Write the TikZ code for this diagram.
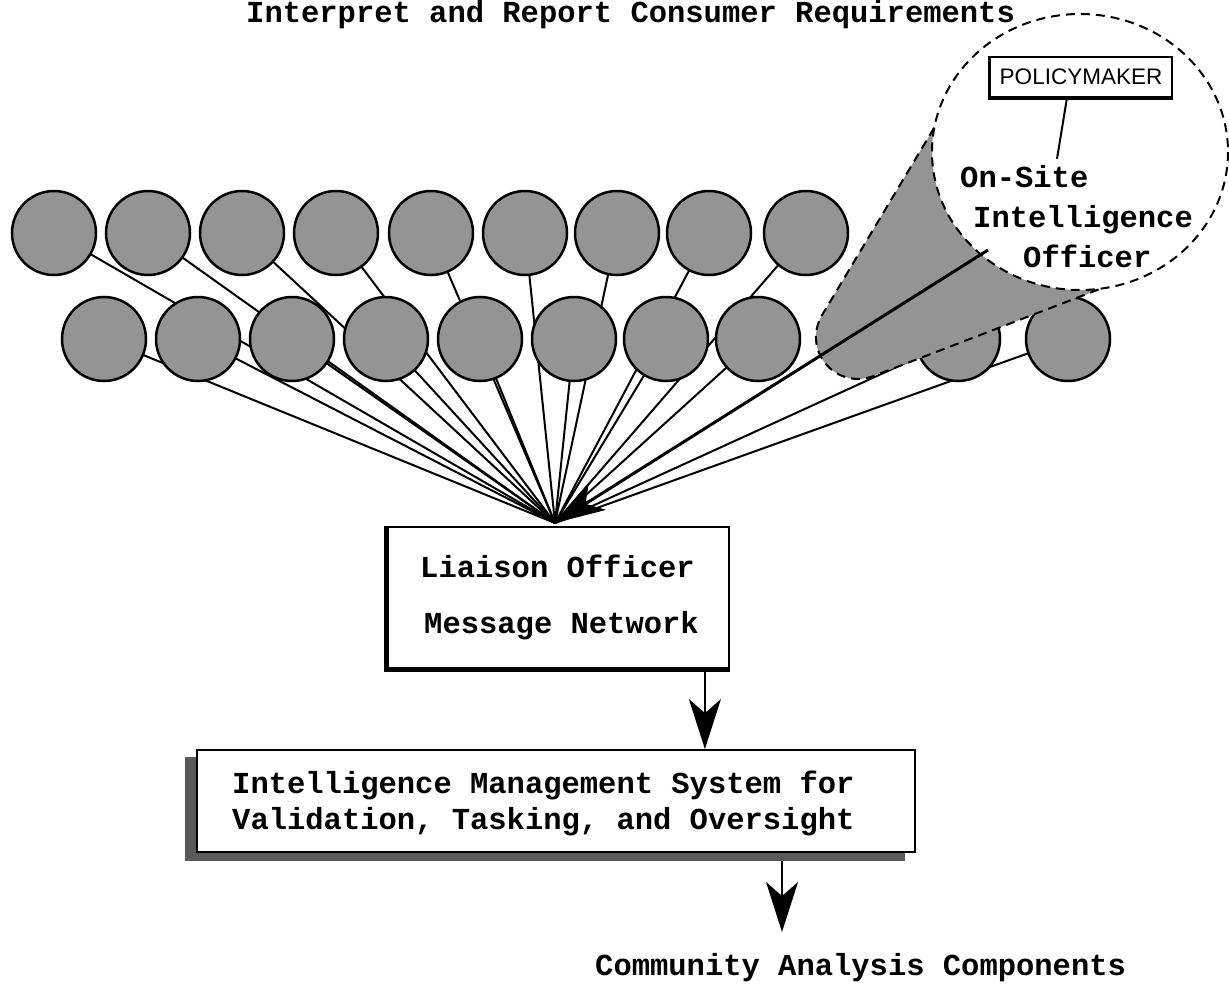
\documentclass[tikz,border=0pt]{standalone}
\usepackage{fontspec}
\newfontfamily\cour{Liberation Mono}
\newfontfamily\arialf{Liberation Sans}
\usetikzlibrary{arrows.meta,backgrounds}
\pgfdeclarelayer{bottom}
\pgfsetlayers{bottom,background,main}
\begin{document}
\begin{tikzpicture}[x=1pt,y=-1pt,
  dot/.style={circle,draw,line width=2.5pt,fill=black!42,minimum size=84pt,inner sep=0pt},
  spoke/.style={line width=2pt},
  bigtip/.style={-{Stealth[length=50pt,width=32pt,inset=14pt]}},
  lbl/.style={font=\cour\bfseries\fontsize{30.5}{36}\selectfont,anchor=base west,inner sep=0pt},
  boxframe/.style={draw,line width=1.8pt,inner sep=0pt},
  dashline/.style={line width=2pt,dash pattern=on 9pt off 6pt},
  shade/.style={fill=black!42}]
\begin{pgfonlayer}{bottom}
  \fill[white] (0,0) rectangle (1229,983);
\end{pgfonlayer}
\useasboundingbox (0,0) rectangle (1229,983);

% key points
\coordinate (apex) at (555,523);
\coordinate (hid) at (858,337);
\coordinate (osio) at (988,250);

% circles
\foreach \i/\x in {1/54,2/148,3/242,4/336,5/431,6/525,7/617,8/709,9/806}
  \node[dot] (t\i) at (\x,233) {};
\foreach \i/\x in {1/104,2/198,3/292,4/386,5/480,6/574,7/666,8/758,9/958,10/1068}
  \node[dot] (b\i) at (\x,339) {};

% spokes behind circles
\begin{scope}[on background layer]
  \foreach \n in {t1,t2,t3,t4,t5,t6,t7,t8,t9,b1,b2,b3,b4,b5,b6,b7,b8,b9,b10}
    \draw[spoke] (\n.center) -- (apex);
\end{scope}

% magnifier cone
\fill[shade] (934,128) -- (821.8,315.6)
  arc[start angle=210.6,end angle=70,radius=42] -- (1100.6,288.7)
  arc[start angle=82,end angle=190,x radius=148,y radius=138] -- cycle;
\draw[dashline] (934,128) -- (821.8,315.6)
  arc[start angle=210.6,end angle=70,radius=42] -- (1100.6,288.7);
\draw[dashline] (1080,152) ellipse [x radius=148,y radius=138];

% policymaker
\node[boxframe,line width=1.5pt,minimum width=182pt,minimum height=40pt,
  font=\arialf\fontsize{22.5}{26}\selectfont] (pm) at (1081,77) {POLICYMAKER};
\draw[line width=3.5pt] (pm.north west) -- (pm.south west) -- (pm.south east);
\draw[line width=2pt] ([xshift=-14pt]pm.south) -- ++(-10,61);

\node[lbl] (os1) at (960,187) {On-Site};
\node[lbl] (os2) at (973,227) {Intelligence};
\node[lbl] (os3) at (1023,267) {Officer};

% thick connector from on-site officer
\draw[line width=3pt,bigtip] (osio) -- (apex);

% liaison box
\node[boxframe,minimum width=342pt,minimum height=142pt] (lia) at (558,598) {};
\draw[line width=5pt] (lia.north west) -- (lia.south west) -- (lia.south east);
\node[lbl] (lia1) at (420,577) {Liaison Officer};
\node[lbl] (lia2) at (424,633) {Message Network};

% IMS box
\node[boxframe,fill=white,minimum width=718pt,minimum height=102pt] (ims) at (556,801) {};
\begin{scope}[on background layer]
  \fill[black!65] ([shift={(-11,8)}]ims.north west) rectangle ([shift={(-11,8)}]ims.south east);
\end{scope}
\node[lbl] (ims1) at (232,793) {Intelligence Management System for};
\node[lbl] (ims2) at (232,829) {Validation, Tasking, and Oversight};

% title and output
\node[lbl] (ttl) at (246,22) {Interpret and Report Consumer Requirements};
\node[lbl] (cac) at (595,975) {Community Analysis Components};
\coordinate (cactop) at (782,932);

% arrows
\draw[line width=1.8pt,bigtip] ([xshift=-25pt]lia.south east) -- ([xshift=-25pt]lia.south east |- ims.north);
\draw[line width=1.8pt,bigtip] ([yshift=-8pt]ims.south -| cactop) -- (cactop);
\end{tikzpicture}
\end{document}
